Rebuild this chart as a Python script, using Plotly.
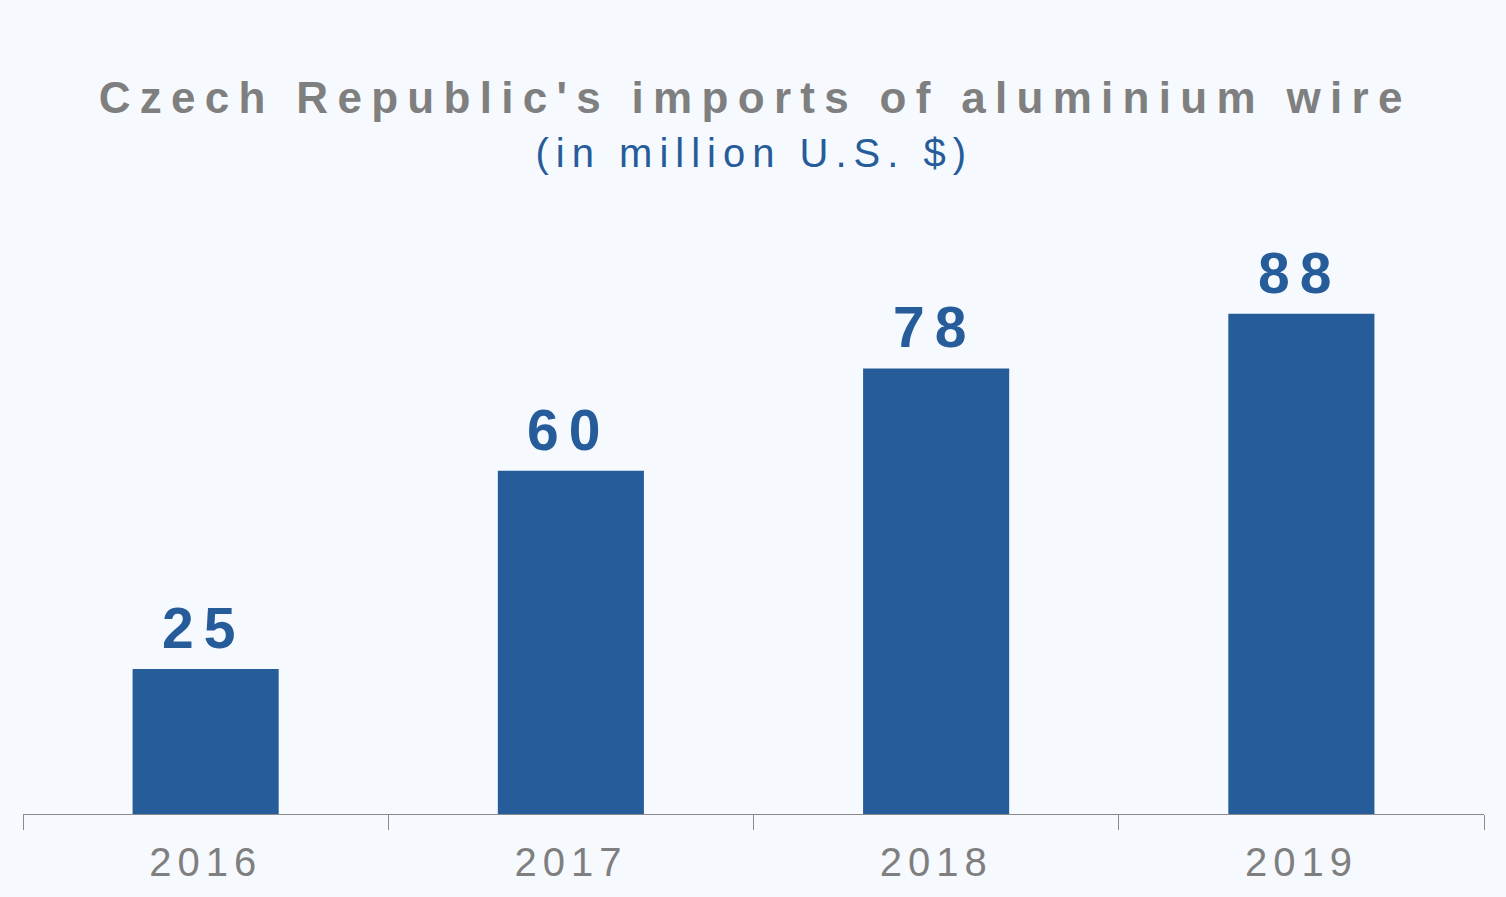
import plotly.graph_objects as go

years = ["2016", "2017", "2018", "2019"]
values = [25.4, 60.1, 78.0, 87.6]
labels = ["25", "60", "78", "88"]

title_text = "Czech Republic's imports of aluminium wire"
subtitle_text = "(in million U.S. $)"

BG = "#F6FAFE"
BAR = "#265C9A"
GRAY = "#7F7F7F"
FONT = "Liberation Sans, Arial, sans-serif"

fig = go.Figure()
fig.add_trace(go.Bar(
    x=years, y=values, marker=dict(color=BAR, line=dict(width=0)),
    width=0.4, hoverinfo="skip",
))

annotations = []
for i, (v, lab) in enumerate(zip(values, labels)):
    annotations.append(dict(
        x=i, y=v, xref="x", yref="y", text="<b>" + lab + "</b>", showarrow=False,
        yanchor="bottom", yshift=7, xshift=-2,
        font=dict(family=FONT, size=57, color=BAR),
    ))
annotations.append(dict(
    x=0.5, y=(814 - 98) / 614, xref="paper", yref="paper", text="<b>" + title_text + "</b>",
    showarrow=False, yanchor="middle", xanchor="center", xshift=1,
    font=dict(family=FONT, size=44, color=GRAY),
))
annotations.append(dict(
    x=0.5, y=(814 - 153) / 614, xref="paper", yref="paper", text=subtitle_text,
    showarrow=False, yanchor="middle", xanchor="center", xshift=1,
    font=dict(family=FONT, size=40, color=BAR),
))

fig.update_layout(
    width=1506, height=897,
    margin=dict(l=23, r=22, t=200, b=83),
    paper_bgcolor=BG, plot_bgcolor=BG,
    showlegend=False,
    annotations=annotations,
    xaxis=dict(
        type="category", range=[-0.5, 3.5],
        showline=True, linecolor="#8A8A8A", linewidth=1,
        ticks="outside", tickson="boundaries", ticklen=15, tickcolor="#8A8A8A", tickwidth=1,
        tickfont=dict(family=FONT, size=40, color=GRAY),
        showgrid=False, zeroline=False, ticklabelstandoff=13,
    ),
    yaxis=dict(range=[0, 107.5], visible=False, showgrid=False, zeroline=False),
)

post = """
var gd = document.getElementById('{plot_id}');
function ls(){
  gd.querySelectorAll('text').forEach(function(t){
    var c = t.textContent;
    if (c.indexOf('Czech') === 0) t.style.letterSpacing = '9.3px';
    else if (c.indexOf('(in') === 0) t.style.letterSpacing = '7px';
    else if (/^20\\d\\d$/.test(c)) t.style.letterSpacing = '6px';
    else if (/^\\d\\d$/.test(c)) t.style.letterSpacing = '10px';
  });
}
ls();
gd.on('plotly_afterplot', ls);
"""

fig.write_html("out.html", post_script=post, config={"displayModeBar": False})
